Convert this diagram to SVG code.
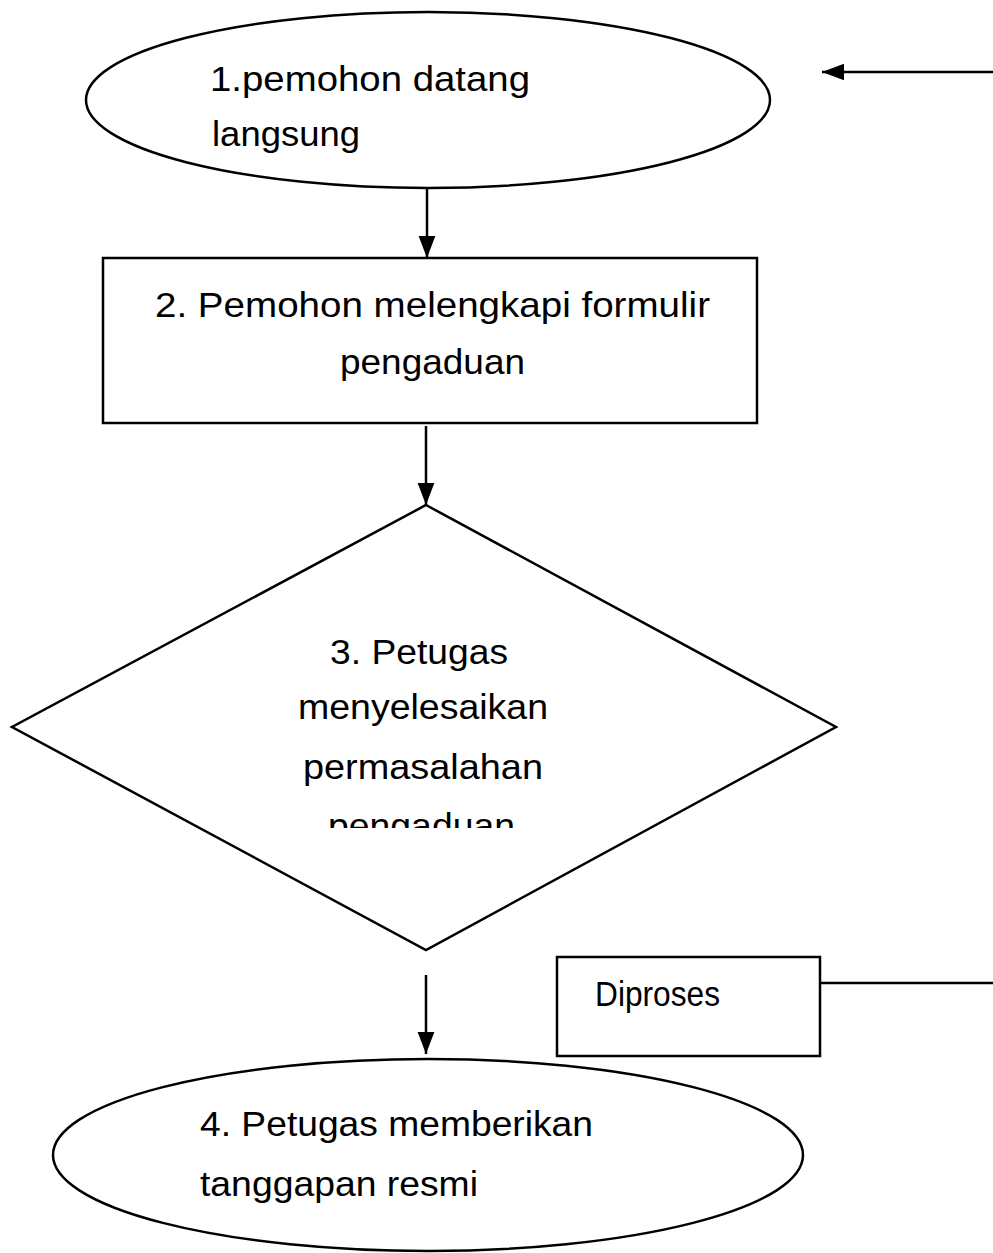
<svg xmlns="http://www.w3.org/2000/svg" width="993" height="1253" viewBox="0 0 993 1253">
<style>
.s{fill:#fff;stroke:#000;stroke-width:2.5}
.t{font-family:"Liberation Sans",Arial,sans-serif;font-size:35px;fill:#000}
.c{stroke:#000;stroke-width:2.5;fill:none}
</style>
<defs>
<marker id="ah2" viewBox="0 0 10 10" refX="10" refY="5" markerWidth="22" markerHeight="22" markerUnits="userSpaceOnUse" orient="auto"><path d="M0,1.2 L10,5 L0,8.8 z" fill="#000"/></marker>
<clipPath id="dc"><rect x="0" y="0" width="993" height="828"/></clipPath>
</defs>
<rect width="993" height="1253" fill="#fff"/>
<g id="n1">
<ellipse class="s" cx="428" cy="100" rx="342" ry="88"/>
<text class="t" x="210" y="91" textLength="320" lengthAdjust="spacingAndGlyphs">1.pemohon datang</text>
<text class="t" x="212" y="146" textLength="148" lengthAdjust="spacingAndGlyphs">langsung</text>
</g>
<g id="n2">
<rect class="s" x="103" y="258" width="654" height="165" stroke-width="3"/>
<text class="t" x="155" y="317" textLength="555" lengthAdjust="spacingAndGlyphs">2. Pemohon melengkapi formulir</text>
<text class="t" x="340" y="374" textLength="185" lengthAdjust="spacingAndGlyphs">pengaduan</text>
</g>
<g id="n3">
<polygon class="s" points="426,505 836,727 426,950 12,727" stroke-width="2"/>
<text class="t" x="330" y="664" textLength="178" lengthAdjust="spacingAndGlyphs">3. Petugas</text>
<text class="t" x="298" y="719" textLength="250" lengthAdjust="spacingAndGlyphs">menyelesaikan</text>
<text class="t" x="303" y="779" textLength="240" lengthAdjust="spacingAndGlyphs">permasalahan</text>
<text class="t" x="328" y="838" textLength="187" lengthAdjust="spacingAndGlyphs" clip-path="url(#dc)">pengaduan</text>
</g>
<g id="n4">
<rect class="s" x="557" y="957" width="263" height="99" stroke-width="3"/>
<text class="t" x="595" y="1006" textLength="125" lengthAdjust="spacingAndGlyphs" font-size="30">Diproses</text>
</g>
<g id="n5">
<ellipse class="s" cx="428" cy="1155" rx="375" ry="96"/>
<text class="t" x="200" y="1136" textLength="393" lengthAdjust="spacingAndGlyphs">4. Petugas memberikan</text>
<text class="t" x="200" y="1196" textLength="278" lengthAdjust="spacingAndGlyphs">tanggapan resmi</text>
</g>
<g id="connectors">
<line class="c" x1="993" y1="72" x2="822" y2="72" marker-end="url(#ah2)"/>
<line class="c" x1="427" y1="188" x2="427" y2="258" marker-end="url(#ah2)"/>
<line class="c" x1="426" y1="426" x2="426" y2="505" marker-end="url(#ah2)"/>
<line class="c" x1="426" y1="975" x2="426" y2="1054" marker-end="url(#ah2)"/>
<line class="c" x1="820" y1="983" x2="993" y2="983"/>
</g>
</svg>
